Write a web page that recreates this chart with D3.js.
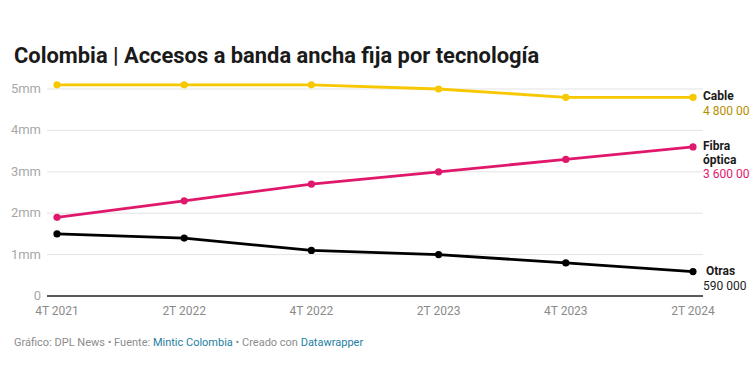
<!DOCTYPE html>
<html><head><meta charset="utf-8">
<script src="https://cdn.jsdelivr.net/npm/d3@7"></script>
<style>
html,body{margin:0;padding:0;background:#fff;overflow:hidden}
svg{display:block;font-family:Roboto,"Noto Sans",sans-serif}
</style></head><body>
<svg id="c" width="750" height="379"></svg>
<script>
const categories = ["4T 2021","2T 2022","4T 2022","2T 2023","4T 2023","2T 2024"];
const cable = [5.1,5.1,5.1,5.0,4.8,4.8];
const fibra = [1.9,2.3,2.7,3.0,3.3,3.6];
const otras = [1.5,1.4,1.1,1.0,0.8,0.59];
const yTicks = [0,1,2,3,4,5];
const yTickLabels = ["0","1mm","2mm","3mm","4mm","5mm"];
const seriesNames = [["Cable"],["Fibra","óptica"],["Otras"]];
const seriesValueLabels = ["4 800 000","3 600 000","590 000"];
const title = "Colombia | Accesos a banda ancha fija por tecnología";

const colors = ["#f7c800","#e0186c","#000000"];
const valueColors = ["#b38e00","#e0186c","#222222"];

const svg = d3.select("#c");
const x = d3.scalePoint().domain(categories).range([57,693]);
const y = d3.scaleLinear().domain([0,5]).range([296,89]);

svg.append("text").attr("x",14).attr("y",63).attr("font-size",21.9).attr("font-weight",700)
  .attr("fill","#1a1a1a").text(title);

// gridlines
const g = svg.append("g");
g.selectAll("line.grid").data(yTicks.filter(d=>d>0)).join("line")
  .attr("x1",47).attr("x2",703).attr("y1",d=>y(d)).attr("y2",d=>y(d))
  .attr("stroke","#e3e3e3").attr("stroke-width",1);
g.append("line").attr("x1",47).attr("x2",703).attr("y1",y(0)).attr("y2",y(0))
  .attr("stroke","#222").attr("stroke-width",1.3);
g.selectAll("text.yl").data(yTicks).join("text")
  .attr("x",41).attr("y",d=>y(d)+4).attr("text-anchor","end")
  .attr("font-size",13).attr("fill","#a8a8a8").text((d,i)=>yTickLabels[i]);

// x labels
g.selectAll("text.xl").data(categories).join("text")
  .attr("x",d=>x(d)).attr("y",315).attr("text-anchor","middle")
  .attr("font-size",12).attr("fill","#8a8a8a").text(d=>d);

const all = [cable,fibra,otras];
const line = d3.line().x((d,i)=>x(categories[i])).y(d=>y(d));
all.forEach((s,k)=>{
  svg.append("path").attr("d",line(s)).attr("fill","none").attr("stroke",colors[k])
    .attr("stroke-width",2.8).attr("stroke-linejoin","round").attr("stroke-linecap","round");
  svg.append("g").selectAll("circle").data(s).join("circle")
    .attr("cx",(d,i)=>x(categories[i])).attr("cy",d=>y(d)).attr("r",3.6).attr("fill",colors[k]);
});

// right labels
const lab = svg.append("g").attr("font-size",12);
const lastX = x(categories[categories.length-1]);
// Cable
lab.append("text").attr("x",lastX+10).attr("y",y(cable[5])+3).attr("font-weight",700).attr("fill","#1a1a1a").text(seriesNames[0][0]);
lab.append("text").attr("x",lastX+10).attr("y",y(cable[5])+18).attr("fill",valueColors[0]).text(seriesValueLabels[0]);
// Fibra
lab.append("text").attr("x",lastX+10).attr("y",y(fibra[5])+3).attr("font-weight",700).attr("fill","#1a1a1a").text(seriesNames[1][0]);
lab.append("text").attr("x",lastX+10).attr("y",y(fibra[5])+17).attr("font-weight",700).attr("fill","#1a1a1a").text(seriesNames[1][1]);
lab.append("text").attr("x",lastX+10).attr("y",y(fibra[5])+31).attr("fill",valueColors[1]).text(seriesValueLabels[1]);
// Otras
lab.append("text").attr("x",lastX+13).attr("y",y(otras[5])+3).attr("font-weight",700).attr("fill","#1a1a1a").text(seriesNames[2][0]);
lab.append("text").attr("x",lastX+10).attr("y",y(otras[5])+18).attr("fill",valueColors[2]).text(seriesValueLabels[2]);

// footer
const f = svg.append("text").attr("x",14).attr("y",346).attr("font-size",11);
f.append("tspan").attr("fill","#8c8c8c").text("Gráfico: DPL News • Fuente: ");
f.append("tspan").attr("fill","#1d81a2").text("Mintic Colombia");
f.append("tspan").attr("fill","#8c8c8c").text(" • Creado con ");
f.append("tspan").attr("fill","#1d81a2").text("Datawrapper");
</script></body></html>
